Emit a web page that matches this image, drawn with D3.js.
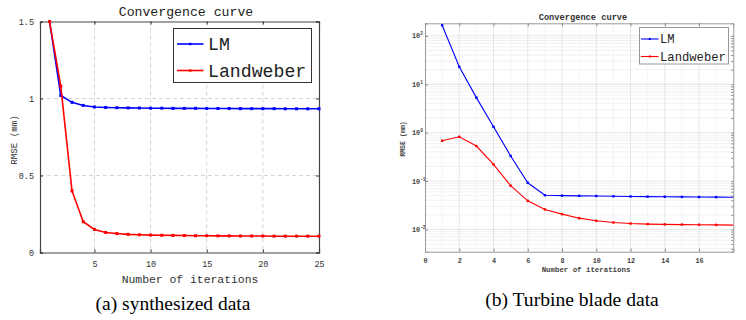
<!DOCTYPE html>
<html>
<head>
<meta charset="utf-8">
<script src="https://cdn.jsdelivr.net/npm/d3@7"></script>
<style>
  body { margin: 0; background: #fff; }
  svg { display: block; }
</style>
</head>
<body>
<script>
// --- data ---
const iterA = d3.range(1, 26);
const lmA = [1.5, 1.02, 0.975, 0.955, 0.945, 0.942, 0.940, 0.939, 0.938, 0.937,
  0.937, 0.936, 0.936, 0.936, 0.935, 0.935, 0.935, 0.934, 0.934, 0.934,
  0.934, 0.933, 0.933, 0.933, 0.933];
const lwA = [1.5, 1.08, 0.40, 0.20, 0.15, 0.13, 0.123, 0.118, 0.115, 0.113,
  0.112, 0.111, 0.110, 0.109, 0.109, 0.108, 0.108, 0.107, 0.107, 0.107,
  0.106, 0.106, 0.106, 0.106, 0.106];
const xTicksA = [5, 10, 15, 20, 25];
const yTicksA = [0, 0.5, 1, 1.5];

const iterB = d3.range(1, 19);
const lmB = [166, 23, 5.3, 1.32, 0.33, 0.092, 0.051, 0.050, 0.0495, 0.049,
  0.0485, 0.048, 0.0477, 0.0474, 0.0471, 0.0468, 0.0465, 0.0462];
const lwB = [0.68, 0.82, 0.53, 0.22, 0.080, 0.039, 0.0259, 0.0207, 0.0171, 0.01507,
  0.0139, 0.01325, 0.0129, 0.0127, 0.0126, 0.0125, 0.0124, 0.0123];
const xTicksB = [0, 2, 4, 6, 8, 10, 12, 14, 16];
const yTicksB = [0.01, 0.1, 1, 10, 100];

const mono = "'Liberation Mono', 'DejaVu Sans Mono', monospace";
const serif = "'Liberation Serif', 'DejaVu Serif', serif";

const svg = d3.select("body").append("svg")
  .attr("width", 746).attr("height", 320);

// ================= (a) synthesized data =================
const a = { left: 40, right: 319, top: 21.5, bottom: 252.5 };
const xa = d3.scaleLinear().domain([0.15, 25]).range([a.left, a.right]);
const ya = d3.scaleLinear().domain([0, 1.5]).range([a.bottom, a.top]);

const ga = svg.append("g");

// dashed grid
ga.selectAll(".gx").data(xTicksA.filter(d => d < 25)).join("line")
  .attr("x1", d => xa(d)).attr("x2", d => xa(d))
  .attr("y1", a.top).attr("y2", a.bottom)
  .attr("stroke", "#d4d4d4").attr("stroke-dasharray", "4,3");
ga.selectAll(".gy").data([0.5, 1]).join("line")
  .attr("x1", a.left).attr("x2", a.right)
  .attr("y1", d => ya(d)).attr("y2", d => ya(d))
  .attr("stroke", "#d4d4d4").attr("stroke-dasharray", "4,3");

// axes (ticks inside)
ga.append("g").attr("transform", `translate(0,${a.bottom})`)
  .call(d3.axisBottom(xa).tickValues(xTicksA).tickSize(-3).tickPadding(8));
ga.append("g").attr("transform", `translate(${a.left},0)`)
  .call(d3.axisLeft(ya).tickValues(yTicksA).tickSize(-3).tickPadding(6).tickFormat(d3.format("")));
ga.append("g").attr("transform", `translate(0,${a.top})`)
  .call(d3.axisTop(xa).tickValues(xTicksA).tickSize(-3).tickFormat(""));
ga.append("g").attr("transform", `translate(${a.right},0)`)
  .call(d3.axisRight(ya).tickValues(yTicksA).tickSize(-3).tickFormat(""));
ga.selectAll(".domain").attr("stroke", "#444").attr("stroke-width", 1.2);
ga.selectAll(".tick line").attr("stroke", "#333");
ga.selectAll(".tick text").attr("font-family", mono).attr("font-size", 8.5).attr("fill", "#333");

const lineA = d3.line().x((d, i) => xa(iterA[i])).y(d => ya(d));
[[lmA, "#0000ff"], [lwA, "#ff0000"]].forEach(([vals, col]) => {
  ga.append("path").datum(vals).attr("d", lineA)
    .attr("fill", "none").attr("stroke", col).attr("stroke-width", 1.6);
  ga.selectAll(null).data(vals).join("rect")
    .attr("x", (d, i) => xa(iterA[i]) - 1.5).attr("y", d => ya(d) - 1.5)
    .attr("width", 3).attr("height", 3).attr("fill", col);
});

ga.append("text").attr("x", 186).attr("y", 16).attr("text-anchor", "middle")
  .attr("font-family", mono).attr("font-size", 13.2).attr("fill", "#222")
  .text("Convergence curve");
ga.append("text").attr("x", 190).attr("y", 283).attr("text-anchor", "middle")
  .attr("font-family", mono).attr("font-size", 11.4).attr("fill", "#333")
  .text("Number of iterations");
ga.append("text").attr("transform", "translate(17,140) rotate(-90)")
  .attr("text-anchor", "middle").attr("font-family", mono).attr("font-size", 9.2)
  .attr("fill", "#333").text("RMSE (mm)");

// legend
const legA = ga.append("g");
legA.append("rect").attr("x", 173.5).attr("y", 28.5).attr("width", 138).attr("height", 54)
  .attr("fill", "#fff").attr("stroke", "#333").attr("stroke-width", 1);
[["LM", "#0000ff", 44], ["Landweber", "#ff0000", 70.5]].forEach(([name, col, y]) => {
  legA.append("line").attr("x1", 177).attr("x2", 203.5).attr("y1", y).attr("y2", y)
    .attr("stroke", col).attr("stroke-width", 1.6);
  legA.append("rect").attr("x", 189).attr("y", y - 1.2).attr("width", 2.4).attr("height", 2.4).attr("fill", col);
  legA.append("text").attr("x", 208).attr("y", y + 6).attr("font-family", mono)
    .attr("font-size", 18.2).attr("fill", "#222").text(name);
});

svg.append("text").attr("x", 173).attr("y", 310).attr("text-anchor", "middle")
  .attr("font-family", serif).attr("font-size", 19.5).attr("fill", "#000")
  .text("(a) synthesized data");

// ================= (b) Turbine blade data =================
const b = { left: 425, right: 733.3, top: 23.3, bottom: 251.7 };
const xb = d3.scaleLinear().domain([0, 18]).range([b.left, b.right]);
const yb = d3.scaleLog().domain([Math.pow(10, -2.46), Math.pow(10, 2.26)]).range([b.bottom, b.top]);

const gb = svg.append("g");

// minor + major grid
const minorY = [];
for (let e = -3; e <= 2; e++) for (let m = 1; m <= 9; m++) {
  const v = m * Math.pow(10, e);
  if (v >= yb.domain()[0] && v <= yb.domain()[1]) minorY.push(v);
}
gb.selectAll(".gy").data(minorY).join("line")
  .attr("x1", b.left).attr("x2", b.right)
  .attr("y1", d => yb(d)).attr("y2", d => yb(d))
  .attr("stroke", d => yTicksB.includes(d) ? "#e0e0e0" : "#eeeeee").attr("stroke-width", 0.8);
gb.selectAll(".gx").data(d3.range(1, 18)).join("line")
  .attr("x1", d => xb(d)).attr("x2", d => xb(d))
  .attr("y1", b.top).attr("y2", b.bottom)
  .attr("stroke", d => d % 2 === 0 ? "#e0e0e0" : "#f2f2f2").attr("stroke-width", 0.8);

gb.append("g").attr("transform", `translate(0,${b.bottom})`)
  .call(d3.axisBottom(xb).tickValues(xTicksB).tickSize(-3).tickPadding(6));
gb.append("g").attr("transform", `translate(${b.left},0)`)
  .call(d3.axisLeft(yb).tickValues(yTicksB).tickSize(-3).tickPadding(5).tickFormat(""));
gb.append("g").attr("transform", `translate(0,${b.top})`)
  .call(d3.axisTop(xb).tickValues(xTicksB).tickSize(-3).tickFormat(""));
gb.append("g").attr("transform", `translate(${b.right},0)`)
  .call(d3.axisRight(yb).tickValues(minorY).tickSize(-2).tickFormat(""));
gb.selectAll(".domain").attr("stroke", "#999").attr("stroke-width", 1);
gb.selectAll(".tick line").attr("stroke", "#888");
gb.selectAll(".tick text").attr("font-family", mono).attr("font-size", 6.8)
  .attr("font-weight", "bold").attr("fill", "#444");

// log tick labels as 10^n
const yl = gb.selectAll(".ylab").data(yTicksB).join("text")
  .attr("x", 412).attr("y", d => yb(d) + 2.5)
  .attr("font-family", mono).attr("font-size", 6.8).attr("font-weight", "bold").attr("fill", "#444");
yl.append("tspan").text("10");
yl.append("tspan").attr("dy", -3).attr("font-size", 4.5).text(d => Math.round(Math.log10(d)));

const lineB = d3.line().x((d, i) => xb(iterB[i])).y(d => yb(d));
[[lmB, "#0000ff"], [lwB, "#ff0000"]].forEach(([vals, col]) => {
  gb.append("path").datum(vals).attr("d", lineB)
    .attr("fill", "none").attr("stroke", col).attr("stroke-width", 1.1);
  gb.selectAll(null).data(vals.slice(0, 17)).join("rect")
    .attr("x", (d, i) => xb(iterB[i]) - 1.2).attr("y", d => yb(d) - 1.2)
    .attr("width", 2.4).attr("height", 2.4).attr("fill", col);
});

gb.append("text").attr("x", 583).attr("y", 20).attr("text-anchor", "middle")
  .attr("font-family", mono).attr("font-size", 8.7).attr("font-weight", "bold").attr("fill", "#333")
  .text("Convergence curve");
gb.append("text").attr("x", 586).attr("y", 272).attr("text-anchor", "middle")
  .attr("font-family", mono).attr("font-size", 7.4).attr("font-weight", "bold").attr("fill", "#444")
  .text("Number of iterations");
gb.append("text").attr("transform", "translate(405,139) rotate(-90)")
  .attr("text-anchor", "middle").attr("font-family", mono).attr("font-size", 6.6)
  .attr("font-weight", "bold").attr("fill", "#444").text("RMSE (mm)");

const legB = gb.append("g");
legB.append("rect").attr("x", 639.5).attr("y", 27.5).attr("width", 89).attr("height", 36.5)
  .attr("fill", "#fff").attr("stroke", "#999").attr("stroke-width", 1);
[["LM", "#0000ff", 39], ["Landweber", "#ff0000", 56.5]].forEach(([name, col, y]) => {
  legB.append("line").attr("x1", 641).attr("x2", 658.5).attr("y1", y).attr("y2", y)
    .attr("stroke", col).attr("stroke-width", 1.1);
  legB.append("rect").attr("x", 648.8).attr("y", y - 1).attr("width", 2).attr("height", 2).attr("fill", col);
  legB.append("text").attr("x", 660).attr("y", y + 4).attr("font-family", mono)
    .attr("font-size", 12.2).attr("fill", "#222").text(name);
});

svg.append("text").attr("x", 572).attr("y", 306).attr("text-anchor", "middle")
  .attr("font-family", serif).attr("font-size", 19.6).attr("fill", "#000")
  .text("(b) Turbine blade data");
</script>
</body>
</html>
